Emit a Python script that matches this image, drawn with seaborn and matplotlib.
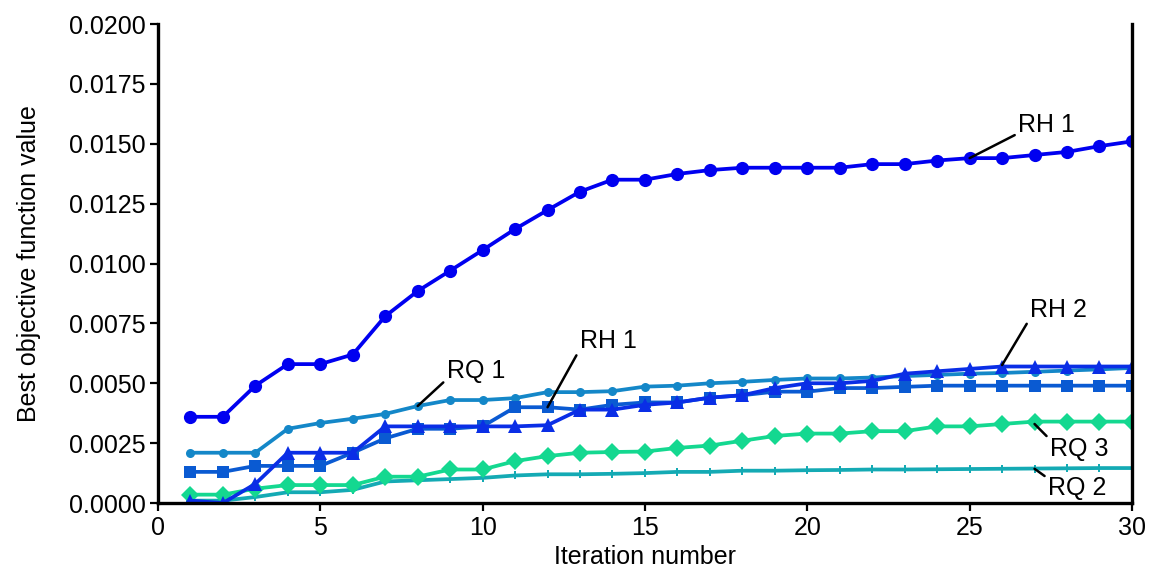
import numpy as np
import pandas as pd
import seaborn as sns
import matplotlib.pyplot as plt
from matplotlib.ticker import FormatStrFormatter

iterations = list(range(1, 31))

rh1_circle = [0.0036, 0.0036, 0.0049, 0.0058, 0.0058, 0.0062, 0.0078, 0.00885, 0.0097, 0.01056,
              0.01144, 0.01223, 0.0130, 0.0135, 0.0135, 0.01374, 0.0139, 0.0140, 0.0140, 0.0140,
              0.0140, 0.01415, 0.01415, 0.0143, 0.0144, 0.0144, 0.01453, 0.01466, 0.0149, 0.0151]
rq1 = [0.0021, 0.0021, 0.0021, 0.0031, 0.00334, 0.00352, 0.00372, 0.00405, 0.0043, 0.0043,
       0.00438, 0.00463, 0.00463, 0.00467, 0.00486, 0.0049, 0.0050, 0.00506, 0.00514, 0.0052,
       0.0052, 0.00524, 0.0053, 0.00535, 0.0054, 0.00543, 0.00548, 0.00553, 0.00558, 0.00564]
rh1_square = [0.0013, 0.0013, 0.00155, 0.00155, 0.00155, 0.0021, 0.0027, 0.0031, 0.0031, 0.0032,
              0.0040, 0.0040, 0.0039, 0.0041, 0.0042, 0.0042, 0.0044, 0.0045, 0.00465, 0.00465,
              0.0048, 0.0048, 0.00485, 0.0049, 0.0049, 0.0049, 0.0049, 0.0049, 0.0049, 0.0049]
rh2 = [0.0001, 0.0000, 0.0008, 0.0021, 0.0021, 0.0021, 0.0032, 0.0032, 0.0032, 0.0032,
       0.0032, 0.00325, 0.0039, 0.0039, 0.0041, 0.0042, 0.0044, 0.0045, 0.0048, 0.0050,
       0.0050, 0.0051, 0.0054, 0.0055, 0.0056, 0.0057, 0.0057, 0.0057, 0.0057, 0.0057]
rq3 = [0.00035, 0.00035, 0.0006, 0.00075, 0.00075, 0.00075, 0.0011, 0.0011, 0.0014, 0.0014,
       0.00175, 0.00196, 0.0021, 0.00213, 0.00215, 0.0023, 0.0024, 0.0026, 0.0028, 0.0029,
       0.0029, 0.0030, 0.0030, 0.0032, 0.0032, 0.0033, 0.0034, 0.0034, 0.0034, 0.0034]
rq2 = [0.0001, 0.0001, 0.00025, 0.00045, 0.00045, 0.00055, 0.0009, 0.00095, 0.001, 0.00105,
       0.00115, 0.0012, 0.0012, 0.00122, 0.00125, 0.0013, 0.0013, 0.00135, 0.00135, 0.00137,
       0.00138, 0.0014, 0.0014, 0.00141, 0.00142, 0.00143, 0.00144, 0.00145, 0.00146, 0.00146]

series = [
    ("RQ 2", rq2, "#14aab4", "P", 5.5),
    ("RQ 3", rq3, "#14d890", "D", 9),
    ("RQ 1", rq1, "#1487c8", "o", 6.5),
    ("RH 1 sq", rh1_square, "#0a5ad2", "s", 8.5),
    ("RH 2", rh2, "#0a2ee6", "^", 9.5),
    ("RH 1", rh1_circle, "#0000f0", "o", 9.5),
]

sns.set_style("white")
plt.rcParams["font.family"] = ["Liberation Sans", "DejaVu Sans"]
plt.rcParams["text.color"] = "black"
plt.rcParams["axes.labelcolor"] = "black"
plt.rcParams["xtick.color"] = "black"
plt.rcParams["ytick.color"] = "black"

fig = plt.figure(figsize=(11.58, 5.77), dpi=100)
ax = fig.add_axes([0.1364, 0.1282, 0.8411, 0.8302])

for name, vals, col, mk, ms in series:
    df = pd.DataFrame({"it": iterations, "val": vals})
    sns.lineplot(data=df, x="it", y="val", color=col, marker=mk, markersize=ms,
                 markeredgewidth=0, linewidth=2.7, ax=ax, legend=False)

ax.set_xlim(0, 30)
ax.set_ylim(0, 0.02)
ax.set_xticks(np.arange(0, 31, 5))
ax.set_yticks(np.arange(0, 0.02001, 0.0025))
ax.yaxis.set_major_formatter(FormatStrFormatter("%.4f"))
ax.tick_params(axis="both", direction="out", length=6, width=1.6, labelsize=18, color="black",
               labelcolor="black", bottom=True, left=True, pad=3)
ax.set_xlabel("Iteration number", fontsize=18, labelpad=4)
ax.set_ylabel("Best objective function value", fontsize=18, labelpad=20)

for side in ["left", "bottom", "right"]:
    ax.spines[side].set_color("black")
    ax.spines[side].set_linewidth(2.4)
ax.spines["top"].set_visible(False)

# label, point on the curve, text anchor, line attach point on text box, vertical alignment
labels = [
    ("RH 1", (25, 0.0144), (26.49, 0.01549), (0, 0.15), "baseline"),
    ("RQ 1", (8, 0.00405), (8.89, 0.00522), (0, 0.15), "baseline"),
    ("RH 1", (12, 0.0040), (12.99, 0.00647), (0, 0.15), "baseline"),
    ("RH 2", (26, 0.00576), (26.86, 0.00777), (0, 0.15), "baseline"),
    ("RQ 3", (27, 0.0033), (27.47, 0.00276), (0, 0.9), "top"),
    ("RQ 2", (27, 0.00143), (27.41, 0.00113), (0, 0.9), "top"),
]
for txt, xy, xytext, rp, va in labels:
    ax.annotate(txt, xy=xy, xytext=xytext, ha="left", va=va, fontsize=18,
                arrowprops=dict(arrowstyle="-", color="black", lw=1.8, relpos=rp,
                                shrinkA=0, shrinkB=0))

fig.savefig("out.png", dpi=100)
